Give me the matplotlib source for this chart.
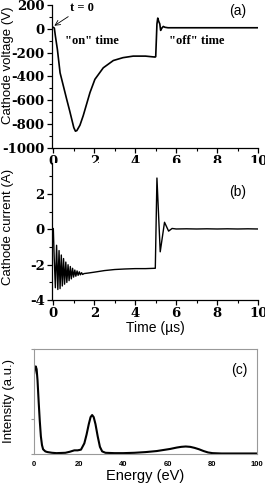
import matplotlib.pyplot as plt
import numpy as np

plt.rcParams["axes.unicode_minus"] = False

# panel (a): cathode voltage
t_volt = [-0.08, 0, 0.05, 0.1, 0.2, 0.33, 0.49, 0.65, 0.8, 0.9, 1.0, 1.08, 1.15, 1.3,
          1.46, 1.79, 2.03, 2.44, 2.93, 3.4, 3.9, 4.5, 4.97, 5.0, 5.06, 5.1, 5.15,
          5.2, 5.24, 5.3, 5.37, 5.45, 5.6, 5.8, 6.0, 7.0, 8.0, 9.0, 10.0]
volt = [10, 12, 5, -60, -175, -370, -480, -590, -690, -760, -830, -860, -855, -810,
        -730, -536, -425, -328, -267, -243, -230, -230, -238, -235, 40, 89, 60,
        40, -14, 5, 19, 12, 8, 8, 8, 8, 8, 8, 8]

# panel (b): cathode current
t_curr = [-0.08, 0.0, 0.04, 0.1, 0.16, 0.22, 0.28, 0.33, 0.39, 0.44, 0.5, 0.55,
          0.61, 0.66, 0.72, 0.77, 0.83, 0.88, 0.94, 0.99, 1.05, 1.1, 1.16, 1.21,
          1.27, 1.32, 1.38, 1.43, 1.5, 1.7, 2.0, 2.5, 3.0, 3.5, 4.0, 4.5, 4.98,
          5.06, 5.22, 5.43, 5.63, 5.8, 6.0, 6.5, 7.0, 7.5, 8.0, 8.5, 9.0, 9.5, 10.0]
curr = [0.0, 0.05, -1.5, -3.3, -0.9, -3.4, -1.2, -3.35, -1.45, -3.2, -1.65, -3.1,
        -1.85, -3.0, -2.0, -2.9, -2.1, -2.8, -2.2, -2.7, -2.3, -2.65, -2.35, -2.6,
        -2.4, -2.57, -2.45, -2.55, -2.5, -2.47, -2.42, -2.33, -2.27, -2.24, -2.22,
        -2.22, -2.2, 2.9, -1.27, 0.4, -0.1, 0.05, 0.02, 0.03, 0.02, 0.03, 0.02,
        0.03, 0.02, 0.03, 0.02]

# panel (c): ion energy distribution
energy = [0, 0.3, 0.7, 1.1, 1.5, 2.0, 2.5, 3.0, 3.5, 4.0, 5.0, 6, 8, 10, 14, 16, 18,
          19.5, 21, 22.5, 23.5, 24.5, 25.3, 26, 26.7, 27.5, 28.5, 29.5, 30.5, 32, 36,
          40, 45, 50, 55, 58, 61, 64, 66, 68, 70, 72, 74, 76, 78, 80, 84, 90, 100]
intensity = [2.3, 2.45, 2.5, 2.42, 2.1, 1.5, 0.95, 0.5, 0.25, 0.13, 0.07, 0.05, 0.03,
             0.02, 0.03, 0.06, 0.1, 0.1, 0.12, 0.3, 0.55, 0.85, 1.05, 1.11, 1.05, 0.85,
             0.5, 0.2, 0.07, 0.03, 0.02, 0.02, 0.03, 0.05, 0.08, 0.11, 0.14, 0.18, 0.2,
             0.21, 0.2, 0.17, 0.13, 0.08, 0.04, 0.02, 0.01, 0.01, 0.01]

a_xticks = [0, 2, 4, 6, 8, 10]
a_yticks = [-1000, -800, -600, -400, -200, 0, 200]
b_yticks = [-4, -2, 0, 2]
c_xticks = [0, 20, 40, 60, 80, 100]

tick_font = {"family": "DejaVu Serif", "weight": "bold", "size": 9.5}
label_font = {"family": "Liberation Sans", "size": 9.5}

fig = plt.figure(figsize=(2.65, 4.88), dpi=100)
ax_a = fig.add_axes([0.195, 0.697, 0.779, 0.293])
ax_b = fig.add_axes([0.195, 0.385, 0.779, 0.281])
ax_c = fig.add_axes([0.129, 0.070, 0.841, 0.215])


def origin_style(ax, xticks, yticks):
    for side in ["top", "right"]:
        ax.spines[side].set_visible(False)
    for side in ["left", "bottom"]:
        ax.spines[side].set_linewidth(0.9)
    ax.set_xticks(xticks)
    ax.set_xticklabels([str(v) for v in xticks], fontdict=tick_font)
    ax.set_yticks(yticks)
    ax.set_yticklabels([str(v) for v in yticks], fontdict=tick_font)
    ax.tick_params(which="major", direction="out", length=3.5, width=0.9, pad=1.5)
    ax.tick_params(which="minor", direction="out", length=2, width=0.8)


ax_a.plot(t_volt, volt, color="black", lw=1.2)
ax_a.set_xlim(-0.08, 10)
ax_a.set_ylim(-1000, 200)
origin_style(ax_a, a_xticks, a_yticks)
ax_a.set_xticks(np.arange(1, 10, 2), minor=True)
ax_a.set_yticks(np.arange(-900, 200, 200), minor=True)
ax_a.set_ylabel("Cathode voltage (V)", **label_font)
ax_a.yaxis.set_label_coords(-0.183, 0.58)
ax_a.text(9.0, 145, "(a)", ha="center", va="center", family="Liberation Sans", size=10)
ax_a.text(1.9, -100, '"on" time', ha="center", va="center",
          family="Liberation Serif", weight="bold", size=9)
ax_a.text(7.0, -100, '"off" time', ha="center", va="center",
          family="Liberation Serif", weight="bold", size=9)
ax_a.annotate("t = 0", xy=(0.05, 25), xytext=(0.8, 175), ha="left", va="center",
              family="Liberation Serif", weight="bold", size=9,
              arrowprops=dict(arrowstyle="->", lw=0.6, color="black",
                              shrinkA=0, shrinkB=0))

ax_b.plot(t_curr, curr, color="black", lw=1.0)
ax_b.set_xlim(-0.08, 10)
ax_b.set_ylim(-4, 3.75)
origin_style(ax_b, a_xticks, b_yticks)
ax_b.set_xticks(np.arange(1, 10, 2), minor=True)
ax_b.set_yticks([-3, -1, 1, 3], minor=True)
ax_b.set_ylabel("Cathode current (A)", **label_font)
ax_b.yaxis.set_label_coords(-0.183, 0.536)
ax_b.set_xlabel("Time (\u00b5s)", labelpad=1, family="Liberation Sans", size=10)
ax_b.text(9.0, 2.1, "(b)", ha="center", va="center", family="Liberation Sans", size=10)

ax_c.plot(energy, intensity, color="black", lw=1.5)
ax_c.set_xlim(0, 100)
ax_c.set_ylim(0, 3)
ax_c.set_xticks(c_xticks)
ax_c.set_xticklabels([str(v) for v in c_xticks],
                     fontdict={"family": "Liberation Sans", "weight": "bold", "size": 5.5})
ax_c.set_yticks([0, 1, 3])
ax_c.set_yticklabels([])
for side in ax_c.spines.values():
    side.set_color("#999999")
    side.set_linewidth(0.8)
ax_c.tick_params(axis="x", length=0, pad=5)
ax_c.tick_params(axis="y", length=2.5, direction="out", color="#999999")
ax_c.set_xlabel("Energy (eV)", labelpad=1, family="Liberation Sans", size=10.5)
ax_c.set_ylabel("Intensity (a.u.)", **label_font)
ax_c.yaxis.set_label_coords(-0.088, 0.5)
ax_c.text(92, 2.4, "(c)", ha="center", va="center", family="Liberation Sans", size=10)

fig.savefig("out.png", dpi=100)
